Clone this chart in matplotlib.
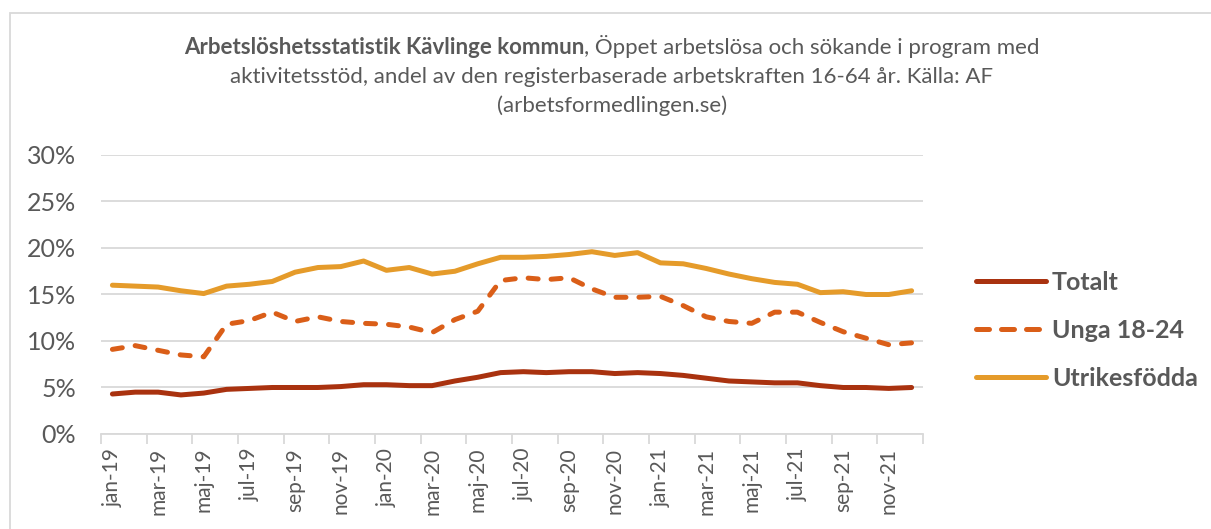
import numpy as np
import matplotlib.pyplot as plt
from matplotlib.lines import Line2D
from matplotlib.patches import Rectangle

plt.rcParams['font.family'] = ['Lato', 'DejaVu Sans']

GRAY = "#595959"
GRID = "#D9D9D9"

months = ["jan", "feb", "mar", "apr", "maj", "jun", "jul", "aug", "sep", "okt", "nov", "dec"]
labels = [f"{m}-{y}" for y in ("19", "20", "21") for m in months]

# andel i procent
totalt = [4.3, 4.5, 4.5, 4.2, 4.4, 4.8, 4.9, 5.0, 5.0, 5.0, 5.1, 5.3,
          5.3, 5.2, 5.2, 5.7, 6.1, 6.6, 6.7, 6.6, 6.7, 6.7, 6.5, 6.6,
          6.5, 6.3, 6.0, 5.7, 5.6, 5.5, 5.5, 5.2, 5.0, 5.0, 4.9, 5.0]
unga = [9.1, 9.5, 9.0, 8.5, 8.3, 11.8, 12.2, 13.1, 12.1, 12.6, 12.1, 11.9,
        11.8, 11.5, 10.9, 12.3, 13.2, 16.5, 16.8, 16.6, 16.8, 15.6, 14.7, 14.7,
        14.8, 13.8, 12.6, 12.1, 11.9, 13.1, 13.1, 12.0, 11.0, 10.3, 9.6, 9.8]
utrikes = [16.0, 15.9, 15.8, 15.4, 15.1, 15.9, 16.1, 16.4, 17.4, 17.9, 18.0, 18.6,
           17.6, 17.9, 17.2, 17.5, 18.3, 19.0, 19.0, 19.1, 19.3, 19.6, 19.2, 19.5,
           18.4, 18.3, 17.8, 17.2, 16.7, 16.3, 16.1, 15.2, 15.3, 15.0, 15.0, 15.4]

fig = plt.figure(figsize=(12.11, 5.29), dpi=100)
ax = fig.add_axes([0.0834, 0.1796, 0.6788, 0.5274])

x = np.arange(len(labels))
c_tot, c_ung, c_utr = "#A9320F", "#DA5E18", "#E59B2A"
ax.plot(x, totalt, color=c_tot, lw=3.6, solid_capstyle="round")
ax.plot(x, unga, color=c_ung, lw=3.6, dashes=(2.0, 2.6), dash_capstyle="round")
ax.plot(x, utrikes, color=c_utr, lw=3.6, solid_capstyle="round")

ax.set_xlim(-0.5, len(labels) - 0.5)
ax.set_ylim(0, 30)
ax.set_yticks(np.arange(0, 31, 5))
ax.set_yticklabels([f"{v}%" for v in range(0, 31, 5)])
ax.yaxis.grid(True, color=GRID, lw=1.3)
ax.set_axisbelow(True)

ax.set_xticks(x[::2])
ax.set_xticklabels(labels[::2], rotation=90)
ax.set_xticks(np.arange(-0.5, len(labels), 2), minor=True)
ax.tick_params(axis="x", which="major", length=0, pad=10, labelsize=15, labelcolor=GRAY)
ax.tick_params(axis="x", which="minor", length=7, color=GRID, width=1.3)
ax.tick_params(axis="y", length=0, pad=18, labelsize=18, labelcolor=GRAY)

for s in ("top", "right", "left"):
    ax.spines[s].set_visible(False)
ax.spines["bottom"].set_color(GRID)
ax.spines["bottom"].set_linewidth(1.3)

# egna handtag så att strecken i legenden blir jämna
handles = [
    Line2D([], [], color=c_tot, lw=3.6, solid_capstyle="round"),
    Line2D([], [], color=c_ung, lw=3.6, dashes=(2.6, 2.4), dash_capstyle="round"),
    Line2D([], [], color=c_utr, lw=3.6, solid_capstyle="round"),
]
leg = fig.legend(handles, ["Totalt", "Unga 18-24", "Utrikesfödda"], loc="center left",
                 bbox_to_anchor=(0.787, 0.376), frameon=False, handlelength=2.8,
                 handletextpad=0.25, labelspacing=1.0, prop={"weight": "bold", "size": 18})
for t in leg.get_texts():
    t.set_color(GRAY)

# ram runt diagrammet
fig.patches.append(Rectangle((10 / 1211, -0.01), 1.2, 1 - 13 / 529 + 0.01, transform=fig.transFigure,
                             fill=False, edgecolor=GRID, lw=1.3))

# rubrik med fet början
fs = 16
bold = fig.text(0, 1 - 47 / 529, "Arbetslöshetsstatistik Kävlinge kommun", fontsize=fs,
                fontweight="bold", color=GRAY, va="center")
rest = fig.text(0, 1 - 47 / 529, ", Öppet arbetslösa och sökande i program med", fontsize=fs,
                color=GRAY, va="center")
fig.canvas.draw()
r = fig.canvas.get_renderer()
wb = bold.get_window_extent(r).width
wr = rest.get_window_extent(r).width
x0 = (612 - (wb + wr) / 2) / 1211
bold.set_x(x0)
rest.set_x(x0 + wb / 1211)
fig.text(612 / 1211, 1 - 77 / 529,
         "aktivitetsstöd, andel av den registerbaserade arbetskraften 16-64 år. Källa: AF",
         fontsize=fs, color=GRAY, ha="center", va="center")
fig.text(612 / 1211, 1 - 106 / 529, "(arbetsformedlingen.se)", fontsize=fs, color=GRAY,
         ha="center", va="center")

fig.savefig("out.png", dpi=100)
